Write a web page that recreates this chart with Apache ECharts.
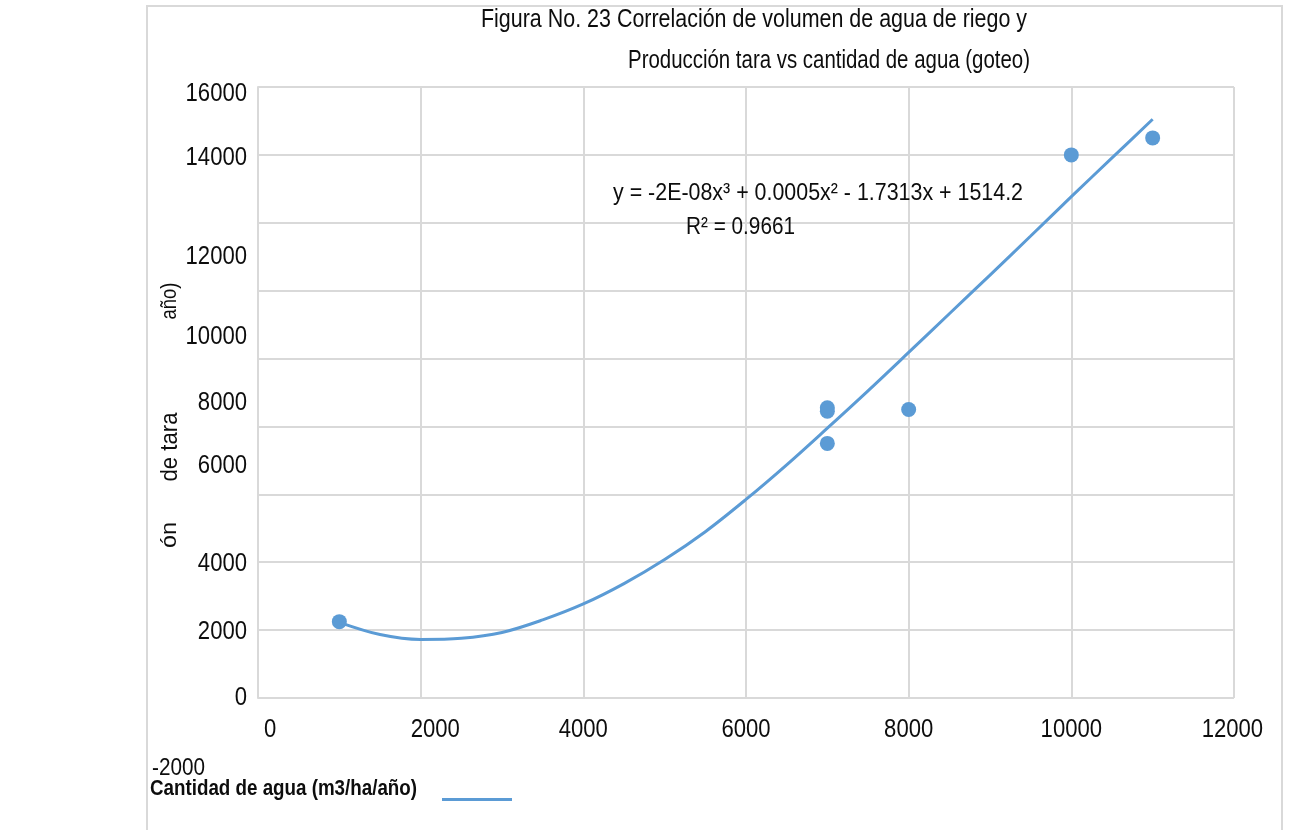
<!DOCTYPE html>
<html>
<head>
<meta charset="utf-8">
<script src="https://cdn.jsdelivr.net/npm/echarts@6/dist/echarts.min.js"></script>
<style>
  html, body { margin: 0; padding: 0; background: #fff; }
  #chart { width: 1289px; height: 830px; }
</style>
</head>
<body>
<div id="chart"></div>
<script>
// puntos medidos (agua m3/ha/año, producción)
var aguaX = [1000, 7000, 7000, 7000, 8000, 10000, 11000];
var produccionY = [250, 6550, 6450, 5500, 6500, 14000, 14500];

// línea de tendencia
var tendX = [1000, 1500, 2000, 2500, 3000, 3500, 4000, 4500, 5000, 5500, 6000,
             6500, 7000, 7500, 8000, 8500, 9000, 9500, 10000, 10500, 11000];
var tendY = [230, -130, -275, -240, -70, 300, 770, 1370, 2080, 2900, 3850,
             4870, 5950, 7050, 8180, 9320, 10460, 11610, 12770, 13910, 15050];

// etiquetas de los ejes tal como aparecen (las del eje Y están desplazadas en el original)
var yTickLabels = ['16000', '14000', '12000', '10000', '8000', '6000', '4000', '2000', '0'];
var yTickAt = [15800, 13900, 11000, 8650, 6700, 4850, 1950, -50, -2000];
var xTickLabels = ['0', '2000', '4000', '6000', '8000', '10000', '12000'];
var xTickAt = [150, 2180, 4000, 6000, 8000, 10000, 11980];

var titulo1 = 'Figura No. 23 Correlación de volumen de agua de riego y';
var titulo2 = 'Producción tara vs cantidad de agua (goteo)';
var ecuacion = 'y = -2E-08x³ + 0.0005x² - 1.7313x + 1514.2';
var r2 = 'R² = 0.9661';
var nombreX = 'Cantidad de agua (m3/ha/año)';
var nombreY = ['año)', 'de tara', 'ón'];

var FONT = '"Liberation Sans", Arial, sans-serif';
var AZUL = '#5B9BD5';
var GRIS = '#d9d9d9';
var NEGRO = '#0d0d0d';

var chart = echarts.init(document.getElementById('chart'));

function zip(a, b) {
    var out = [];
    for (var i = 0; i < a.length; i++) out.push([a[i], b[i]]);
    return out;
}

chart.setOption({
    animation: false,
    grid: { left: 258, right: 55, top: 87, bottom: 132 },
    xAxis: {
        type: 'value', min: 0, max: 12000, interval: 2000,
        axisLine: { show: true, lineStyle: { color: GRIS, width: 2 } },
        axisTick: { show: false },
        splitLine: { lineStyle: { color: GRIS, width: 2 } },
        axisLabel: { show: false }
    },
    yAxis: {
        type: 'value', min: -2000, max: 16000, interval: 2000,
        axisLine: { show: true, lineStyle: { color: GRIS, width: 2 } },
        axisTick: { show: false },
        splitLine: { lineStyle: { color: GRIS, width: 2 } },
        axisLabel: { show: false }
    },
    legend: {
        data: ['tendencia'], left: 437, top: 793,
        icon: 'rect', itemWidth: 70, itemHeight: 3,
        formatter: function () { return ''; }
    },
    series: [
        {
            name: 'tendencia', type: 'line', data: zip(tendX, tendY),
            smooth: 0.35, showSymbol: false,
            lineStyle: { color: AZUL, width: 3 }, itemStyle: { color: AZUL }
        },
        {
            name: 'datos', type: 'scatter', data: zip(aguaX, produccionY),
            symbolSize: 15, itemStyle: { color: AZUL, opacity: 1 }
        }
    ]
});

// texto estirado horizontalmente para imitar la fuente estrecha del original
var ctx = document.createElement('canvas').getContext('2d');
function texto(x, y, text, size, width, opts) {
    opts = opts || {};
    var font = (opts.bold ? 'bold ' : '') + size + 'px ' + FONT;
    ctx.font = font;
    var sx = width ? width / ctx.measureText(text).width : 0.85;
    return {
        type: 'text', x: x, y: y, z: 10,
        rotation: opts.rotation || 0, scaleX: sx,
        style: {
            text: text, fill: NEGRO, font: font,
            textAlign: opts.align || 'left', textVerticalAlign: 'middle'
        }
    };
}

var graficos = [
    { type: 'polyline', shape: { points: [[147, 830], [147, 6], [1282, 6], [1282, 830]] },
      style: { stroke: GRIS, lineWidth: 2, fill: null }, z: 1 },
    texto(1027, 20, titulo1, 25, 546, { align: 'right' }),
    texto(1030, 61, titulo2, 25, 402, { align: 'right' }),
    texto(613, 193, ecuacion, 24, 410),
    texto(686, 227, r2, 24, 109),
    texto(152, 768, '-2000', 24, 53),
    texto(150, 789, nombreX, 22, 267, { bold: true }),
    texto(170, 301, nombreY[0], 22, 37, { align: 'center', rotation: Math.PI / 2 }),
    texto(170, 447, nombreY[1], 24, 69, { align: 'center', rotation: Math.PI / 2 }),
    texto(170, 535, nombreY[2], 22, 26, { align: 'center', rotation: Math.PI / 2 })
];

for (var i = 0; i < yTickLabels.length; i++) {
    var py = chart.convertToPixel({ yAxisIndex: 0 }, yTickAt[i]);
    graficos.push(texto(247, py, yTickLabels[i], 26, 0, { align: 'right' }));
}
for (var j = 0; j < xTickLabels.length; j++) {
    var px = chart.convertToPixel({ xAxisIndex: 0 }, xTickAt[j]);
    graficos.push(texto(px, 730, xTickLabels[j], 26, 0, { align: 'center' }));
}

chart.setOption({ graphic: graficos });
</script>
</body>
</html>
